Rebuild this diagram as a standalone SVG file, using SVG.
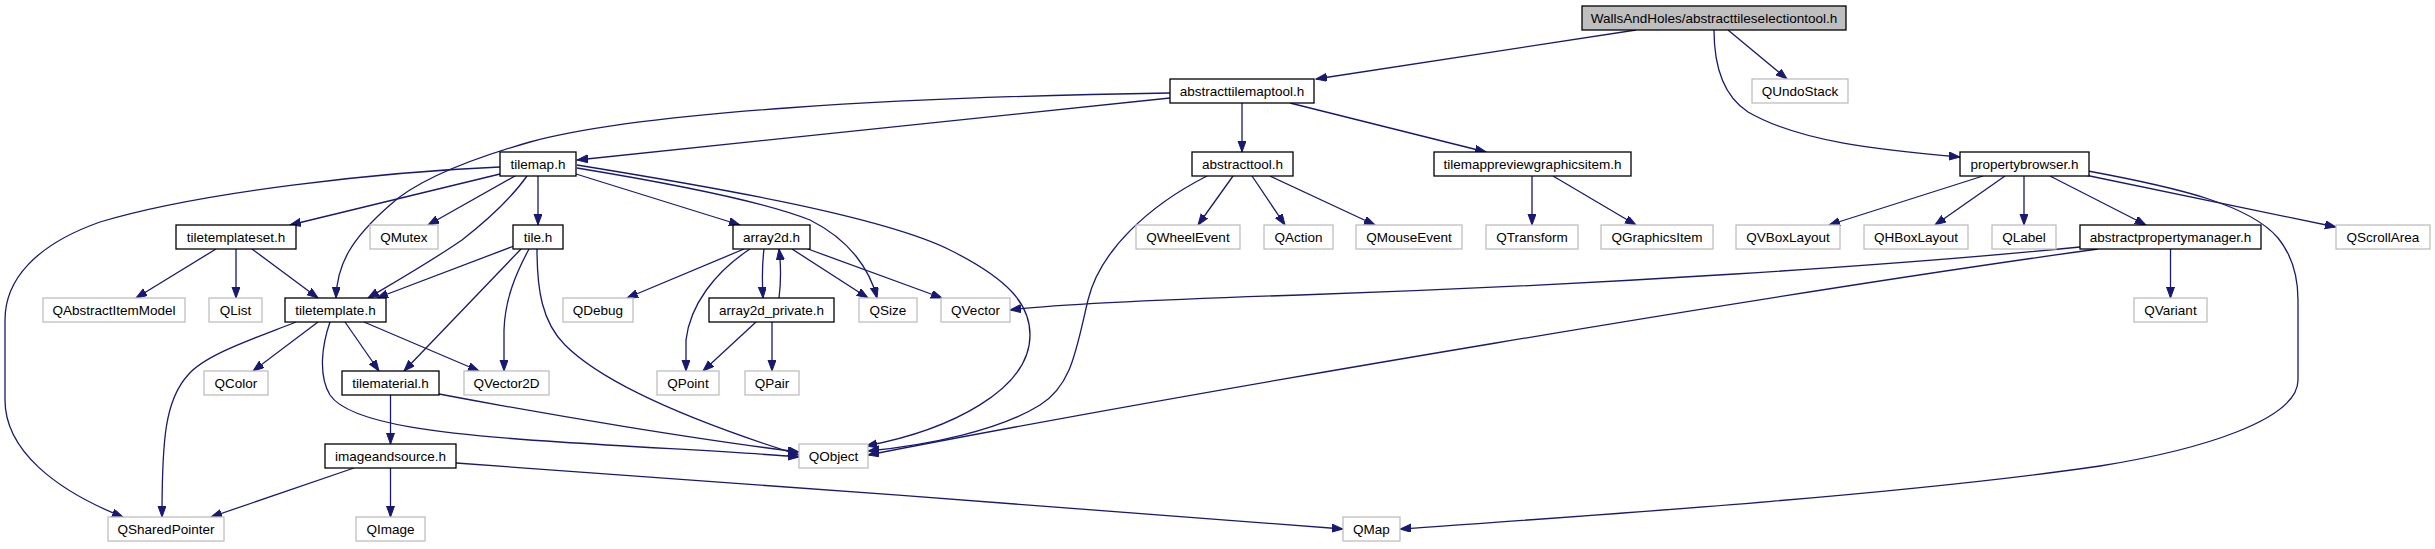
<svg xmlns="http://www.w3.org/2000/svg" width="2435" height="549" viewBox="0 0 2435 549">
<style>
.n rect{fill:#ffffff;stroke:#000000;stroke-width:1.3}
.x rect{fill:#ffffff;stroke:#bfbfbf;stroke-width:1.3}
.r rect{fill:#bfbfbf;stroke:#000000;stroke-width:1.3}
text{font-family:"Liberation Sans",Arial,Helvetica,sans-serif;font-size:13.5px;text-anchor:middle;fill:#000000}
#edges path{fill:none;stroke:#191970;stroke-width:1.3;marker-end:url(#ah)}
</style>
<defs>
<marker id="ah" markerUnits="userSpaceOnUse" markerWidth="12" markerHeight="9" refX="11" refY="4" orient="auto">
<path d="M0,0 L11,4 L0,8 z" fill="#191970" stroke="#191970" stroke-width="1"/>
</marker>
</defs>
<rect width="2435" height="549" fill="#ffffff"/>
<g id="edges">
<path d="M1636,30 L1316,79"/>
<path d="M1728,30 L1787,79"/>
<path d="M1714,30 C1714,65 1722,95 1748,112 C1800,142 1880,150 1960,157"/>
<path d="M1170,98 L577,160"/>
<path d="M1170,93 C900,97 640,112 530,142 C460,162 415,182 390,205 C350,240 337,265 336,298"/>
<path d="M1242,103 L1242,152"/>
<path d="M1290,103 L1486,152"/>
<path d="M500,167 C380,172 200,192 100,222 C35,245 5,280 5,320 L5,400 C5,450 55,490 123,517"/>
<path d="M500,174 L290,225"/>
<path d="M515,176 L428,225"/>
<path d="M527,176 C510,200 485,222 462,240 C430,262 395,282 368,298"/>
<path d="M538,176 L538,225"/>
<path d="M576,174 L740,225"/>
<path d="M577,168 C650,180 760,200 810,220 C850,240 870,270 877,298"/>
<path d="M577,165 C700,185 880,215 950,250 C1010,280 1030,305 1030,335 C1030,390 950,430 866,446"/>
<path d="M216,249 L136,298"/>
<path d="M236,249 L236,298"/>
<path d="M252,249 L318,298"/>
<path d="M514,246 L377,298"/>
<path d="M521,249 L404,371"/>
<path d="M529,249 C515,275 505,300 504,330 L504,371"/>
<path d="M537,249 C537,290 542,322 565,345 C610,390 720,430 799,455"/>
<path d="M744,249 L627,298"/>
<path d="M750,249 C715,272 690,305 686,340 L686,371"/>
<path d="M764,249 C762,265 762,280 763,298"/>
<path d="M779,298 C781,282 781,265 779,249"/>
<path d="M792,249 L868,298"/>
<path d="M808,249 L942,298"/>
<path d="M756,322 L703,371"/>
<path d="M772,322 L772,371"/>
<path d="M296,322 C250,340 205,355 188,375 C165,400 162,440 162,517"/>
<path d="M318,322 L253,371"/>
<path d="M345,322 L379,371"/>
<path d="M364,322 L479,371"/>
<path d="M330,322 C322,345 318,375 330,395 C350,425 450,435 560,442 C650,448 740,452 799,457"/>
<path d="M390.5,395 L390.5,444"/>
<path d="M439,394 C550,415 700,440 799,452"/>
<path d="M354,468 L211,517"/>
<path d="M390.5,468 L390.5,517"/>
<path d="M456,463 C700,480 1100,510 1343,529"/>
<path d="M1207,176 C1150,205 1100,250 1088,300 C1076,350 1072,385 1040,405 C1000,430 930,445 868,451"/>
<path d="M1233,176 L1198,225"/>
<path d="M1252,176 L1285,225"/>
<path d="M1270,176 L1375,225"/>
<path d="M1532,176 L1532,225"/>
<path d="M1553,176 L1636,225"/>
<path d="M1983,176 L1829,225"/>
<path d="M2005,176 L1935,225"/>
<path d="M2024,176 L2024,225"/>
<path d="M2050,176 L2146,225"/>
<path d="M2085,175 L2336,227"/>
<path d="M2088,171 C2180,188 2250,205 2278,238 C2296,260 2298,285 2298,300 L2298,380 C2298,420 2200,450 2100,466 C1900,495 1600,515 1400,529"/>
<path d="M2080,247 C1900,265 1600,285 1300,295 C1150,300 1050,305 1010,310"/>
<path d="M2098,249 C1800,290 1200,390 868,455"/>
<path d="M2170.5,249 L2170.5,298"/>
</g>
<g id="root" class="r"><rect x="1582" y="6" width="264" height="24"/><text x="1714" y="22.7">WallsAndHoles/abstracttileselectiontool.h</text></g>
<g id="abstracttilemaptool" class="n"><rect x="1170" y="79" width="144" height="24"/><text x="1242" y="95.7">abstracttilemaptool.h</text></g>
<g id="QUndoStack" class="x"><rect x="1752" y="79" width="96" height="24"/><text x="1800" y="95.7">QUndoStack</text></g>
<g id="tilemap" class="n"><rect x="500" y="152" width="76" height="24"/><text x="538" y="168.7">tilemap.h</text></g>
<g id="abstracttool" class="n"><rect x="1192" y="152" width="101" height="24"/><text x="1242.5" y="168.7">abstracttool.h</text></g>
<g id="tilemappreviewgraphicsitem" class="n"><rect x="1434" y="152" width="197" height="24"/><text x="1532.5" y="168.7">tilemappreviewgraphicsitem.h</text></g>
<g id="propertybrowser" class="n"><rect x="1960" y="152" width="129" height="24"/><text x="2024.5" y="168.7">propertybrowser.h</text></g>
<g id="tiletemplateset" class="n"><rect x="176" y="225" width="120" height="24"/><text x="236" y="241.7">tiletemplateset.h</text></g>
<g id="QMutex" class="x"><rect x="370" y="225" width="68" height="24"/><text x="404" y="241.7">QMutex</text></g>
<g id="tile" class="n"><rect x="513" y="225" width="50" height="24"/><text x="538" y="241.7">tile.h</text></g>
<g id="array2d" class="n"><rect x="733" y="225" width="77" height="24"/><text x="771.5" y="241.7">array2d.h</text></g>
<g id="QWheelEvent" class="x"><rect x="1136" y="225" width="104" height="24"/><text x="1188" y="241.7">QWheelEvent</text></g>
<g id="QAction" class="x"><rect x="1264" y="225" width="69" height="24"/><text x="1298.5" y="241.7">QAction</text></g>
<g id="QMouseEvent" class="x"><rect x="1356" y="225" width="106" height="24"/><text x="1409" y="241.7">QMouseEvent</text></g>
<g id="QTransform" class="x"><rect x="1486" y="225" width="92" height="24"/><text x="1532" y="241.7">QTransform</text></g>
<g id="QGraphicsItem" class="x"><rect x="1601" y="225" width="112" height="24"/><text x="1657" y="241.7">QGraphicsItem</text></g>
<g id="QVBoxLayout" class="x"><rect x="1736" y="225" width="104" height="24"/><text x="1788" y="241.7">QVBoxLayout</text></g>
<g id="QHBoxLayout" class="x"><rect x="1864" y="225" width="104" height="24"/><text x="1916" y="241.7">QHBoxLayout</text></g>
<g id="QLabel" class="x"><rect x="1992" y="225" width="64" height="24"/><text x="2024" y="241.7">QLabel</text></g>
<g id="abstractpropertymanager" class="n"><rect x="2080" y="225" width="181" height="24"/><text x="2170.5" y="241.7">abstractpropertymanager.h</text></g>
<g id="QScrollArea" class="x"><rect x="2336" y="225" width="94" height="24"/><text x="2383" y="241.7">QScrollArea</text></g>
<g id="QAbstractItemModel" class="x"><rect x="43" y="298" width="142" height="24"/><text x="114" y="314.7">QAbstractItemModel</text></g>
<g id="QList" class="x"><rect x="209" y="298" width="53" height="24"/><text x="235.5" y="314.7">QList</text></g>
<g id="tiletemplate" class="n"><rect x="285" y="298" width="101" height="24"/><text x="335.5" y="314.7">tiletemplate.h</text></g>
<g id="QDebug" class="x"><rect x="563" y="298" width="70" height="24"/><text x="598" y="314.7">QDebug</text></g>
<g id="array2d_private" class="n"><rect x="709" y="298" width="125" height="24"/><text x="771.5" y="314.7">array2d_private.h</text></g>
<g id="QSize" class="x"><rect x="859" y="298" width="58" height="24"/><text x="888" y="314.7">QSize</text></g>
<g id="QVector" class="x"><rect x="941" y="298" width="69" height="24"/><text x="975.5" y="314.7">QVector</text></g>
<g id="QVariant" class="x"><rect x="2134" y="298" width="73" height="24"/><text x="2170.5" y="314.7">QVariant</text></g>
<g id="QColor" class="x"><rect x="204" y="371" width="64" height="24"/><text x="236" y="387.7">QColor</text></g>
<g id="tilematerial" class="n"><rect x="342" y="371" width="97" height="24"/><text x="390.5" y="387.7">tilematerial.h</text></g>
<g id="QVector2D" class="x"><rect x="464" y="371" width="85" height="24"/><text x="506.5" y="387.7">QVector2D</text></g>
<g id="QPoint" class="x"><rect x="657" y="371" width="62" height="24"/><text x="688" y="387.7">QPoint</text></g>
<g id="QPair" class="x"><rect x="745" y="371" width="54" height="24"/><text x="772" y="387.7">QPair</text></g>
<g id="imageandsource" class="n"><rect x="325" y="444" width="131" height="24"/><text x="390.5" y="460.7">imageandsource.h</text></g>
<g id="QObject" class="x"><rect x="799" y="444" width="69" height="24"/><text x="833.5" y="460.7">QObject</text></g>
<g id="QSharedPointer" class="x"><rect x="108" y="517" width="116" height="24"/><text x="166" y="533.7">QSharedPointer</text></g>
<g id="QImage" class="x"><rect x="356" y="517" width="69" height="24"/><text x="390.5" y="533.7">QImage</text></g>
<g id="QMap" class="x"><rect x="1343" y="517" width="57" height="24"/><text x="1371.5" y="533.7">QMap</text></g>
</svg>
